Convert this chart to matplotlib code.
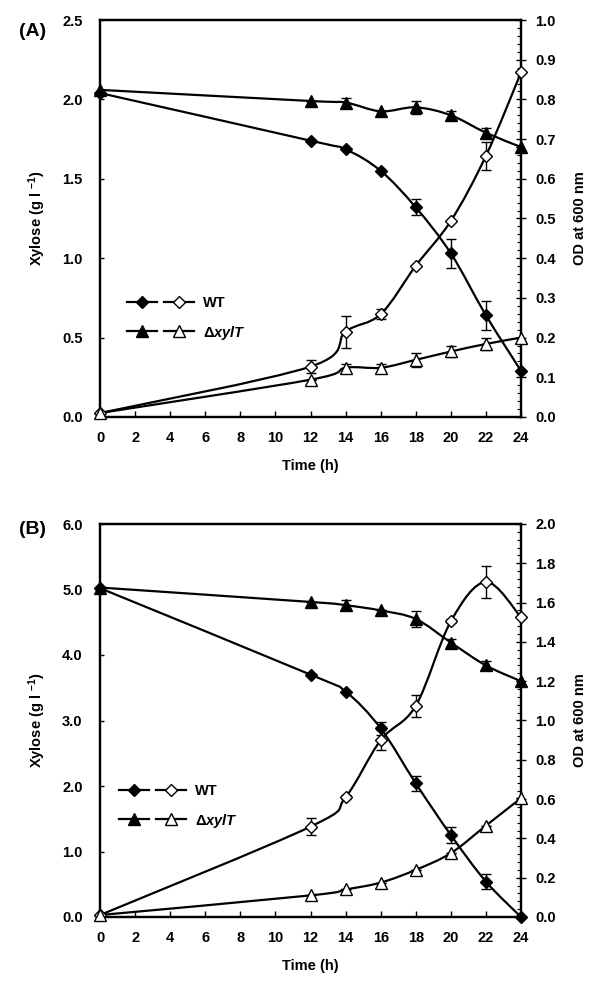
import numpy as np
import matplotlib
matplotlib.use("Agg")
import matplotlib.pyplot as plt
from matplotlib.path import Path
from matplotlib.patches import PathPatch
from matplotlib.lines import Line2D
from matplotlib.legend_handler import HandlerTuple
from matplotlib.ticker import MultipleLocator, FormatStrFormatter

plt.rcParams["font.family"] = ["Liberation Sans", "DejaVu Sans"]
plt.rcParams["font.weight"] = "bold"
plt.rcParams["mathtext.fontset"] = "custom"
plt.rcParams["mathtext.rm"] = "Liberation Sans:bold"
plt.rcParams["mathtext.bf"] = "Liberation Sans:bold"
plt.rcParams["mathtext.it"] = "Liberation Sans:italic:bold"

time_h = [0, 12, 14, 16, 18, 20, 22, 24]

# panel A: xylose (g/l, left axis) and OD600 (right axis)
a_wt_xyl = [2.04, 1.74, 1.685, 1.55, 1.32, 1.03, 0.64, 0.29]
a_wt_xyl_err = [0, 0, 0, 0, 0.05, 0.09, 0.09, 0]
a_ko_xyl = [2.06, 1.99, 1.98, 1.925, 1.95, 1.90, 1.79, 1.70]
a_ko_xyl_err = [0, 0, 0.03, 0, 0.04, 0.025, 0.03, 0]
a_wt_od = [0.01, 0.127, 0.215, 0.259, 0.381, 0.494, 0.658, 0.868]
a_wt_od_err = [0, 0.017, 0.04, 0.012, 0, 0, 0.035, 0]
a_ko_od = [0.01, 0.094, 0.124, 0.124, 0.144, 0.165, 0.184, 0.2]
a_ko_od_err = [0, 0, 0.01, 0.01, 0.018, 0.013, 0.015, 0]

# panel B
b_wt_xyl = [5.02, 3.70, 3.44, 2.88, 2.04, 1.25, 0.54, 0.0]
b_wt_xyl_err = [0, 0, 0, 0.1, 0.12, 0.12, 0.11, 0]
b_ko_xyl = [5.03, 4.81, 4.76, 4.68, 4.55, 4.19, 3.84, 3.60]
b_ko_xyl_err = [0, 0, 0.08, 0, 0.12, 0.05, 0.07, 0]
b_wt_od = [0.01, 0.46, 0.61, 0.90, 1.075, 1.505, 1.705, 1.525]
b_wt_od_err = [0, 0.045, 0.01, 0.05, 0.055, 0.01, 0.08, 0]
b_ko_od = [0.01, 0.11, 0.14, 0.175, 0.24, 0.325, 0.465, 0.605]
b_ko_od_err = [0, 0, 0, 0, 0, 0, 0, 0]


def smooth_path(x, y):
    # Excel-style smoothed line (cardinal bezier through the points)
    pts = np.column_stack([x, y]).astype(float)
    n = len(pts)
    verts = [pts[0]]
    codes = [Path.MOVETO]
    for i in range(n - 1):
        p0 = pts[max(i - 1, 0)]
        p1 = pts[i]
        p2 = pts[i + 1]
        p3 = pts[min(i + 2, n - 1)]
        verts += [p1 + (p2 - p0) / 6, p2 - (p3 - p1) / 6, p2]
        codes += [Path.CURVE4] * 3
    return Path(verts, codes)


def series(ax, y, err, marker, ms, filled):
    ax.add_patch(PathPatch(smooth_path(time_h, y), fill=False, lw=1.6,
                           edgecolor="black", zorder=2, clip_on=False))
    ax.errorbar(time_h, y, yerr=err, fmt="none", ecolor="black", elinewidth=1,
                capsize=3.6, capthick=1, zorder=3)
    ax.plot(time_h, y, linestyle="none", marker=marker, ms=ms,
            mfc="black" if filled else "white", mec="black", mew=1,
            zorder=4, clip_on=False)


def panel(rect, tag, tag_y, wt_xyl, wt_xyl_err, ko_xyl, ko_xyl_err,
          wt_od, wt_od_err, ko_od, ko_od_err, ymax_l, step_l, ymax_r, step_r,
          minor_r, leg_xy):
    ax = fig.add_axes(rect)
    ax2 = ax.twinx()
    ax.set_xlim(0, 24)
    ax.set_ylim(0, ymax_l)
    ax2.set_ylim(0, ymax_r)

    series(ax, wt_xyl, wt_xyl_err, "D", 6, True)
    series(ax, ko_xyl, ko_xyl_err, "^", 9, True)
    series(ax2, wt_od, wt_od_err, "D", 6, False)
    series(ax2, ko_od, ko_od_err, "^", 9, False)

    for a in (ax, ax2):
        for s in a.spines.values():
            s.set_linewidth(1.6)

    ax.xaxis.set_major_locator(MultipleLocator(2))
    ax.yaxis.set_major_locator(MultipleLocator(step_l))
    ax.yaxis.set_major_formatter(FormatStrFormatter("%.1f"))
    ax.tick_params(axis="x", direction="in", length=4, width=1, pad=10, labelsize=10.5)
    ax.tick_params(axis="y", direction="in", length=3, width=1, pad=12.5, labelsize=10.5)

    ax2.yaxis.set_major_locator(MultipleLocator(step_r))
    ax2.yaxis.set_minor_locator(MultipleLocator(minor_r))
    ax2.yaxis.set_major_formatter(FormatStrFormatter("%.1f"))
    ax2.tick_params(axis="y", which="major", direction="inout", length=7, width=1,
                    pad=7, labelsize=10.5)
    ax2.tick_params(axis="y", which="minor", direction="in", length=3, width=0.8)

    ax.set_xlabel("Time (h)", fontsize=10.5, fontweight="bold", labelpad=10)
    ax.set_ylabel(r"Xylose (g l $^{-1}$)", fontsize=10.5, fontweight="bold", labelpad=10)
    ax2.set_ylabel("OD at 600 nm", fontsize=10.5, fontweight="bold", labelpad=12)

    h_wt = (Line2D([], [], color="black", lw=1.6, marker="D", ms=6, mfc="black", mec="black"),
            Line2D([], [], color="black", lw=1.6, marker="D", ms=6, mfc="white", mec="black"))
    h_ko = (Line2D([], [], color="black", lw=1.6, marker="^", ms=9, mfc="black", mec="black"),
            Line2D([], [], color="black", lw=1.6, marker="^", ms=9, mfc="white", mec="black"))
    ax2.legend([h_wt, h_ko], ["WT", r"Δ$\mathit{xylT}$"],
               handler_map={tuple: HandlerTuple(ndivide=None, pad=0.5)},
               loc="center left", bbox_to_anchor=leg_xy, frameon=False,
               handlelength=4.6, handletextpad=0.6, labelspacing=0.9,
               borderpad=0, borderaxespad=0, prop={"size": 10.5, "weight": "bold"})

    fig.text(0.055, tag_y, tag, fontsize=14, fontweight="bold", ha="center", va="center")


fig = plt.figure(figsize=(6, 10), dpi=100)

panel([0.1667, 0.583, 0.7017, 0.397], "(A)", 0.968,
      a_wt_xyl, a_wt_xyl_err, a_ko_xyl, a_ko_xyl_err,
      a_wt_od, a_wt_od_err, a_ko_od, a_ko_od_err,
      2.5, 0.5, 1.0, 0.1, 0.02, (0.064, 0.247))
panel([0.1667, 0.083, 0.7017, 0.393], "(B)", 0.47,
      b_wt_xyl, b_wt_xyl_err, b_ko_xyl, b_ko_xyl_err,
      b_wt_od, b_wt_od_err, b_ko_od, b_ko_od_err,
      6.0, 1.0, 2.0, 0.2, 0.04, (0.045, 0.28))

fig.savefig("out.png", dpi=100)
